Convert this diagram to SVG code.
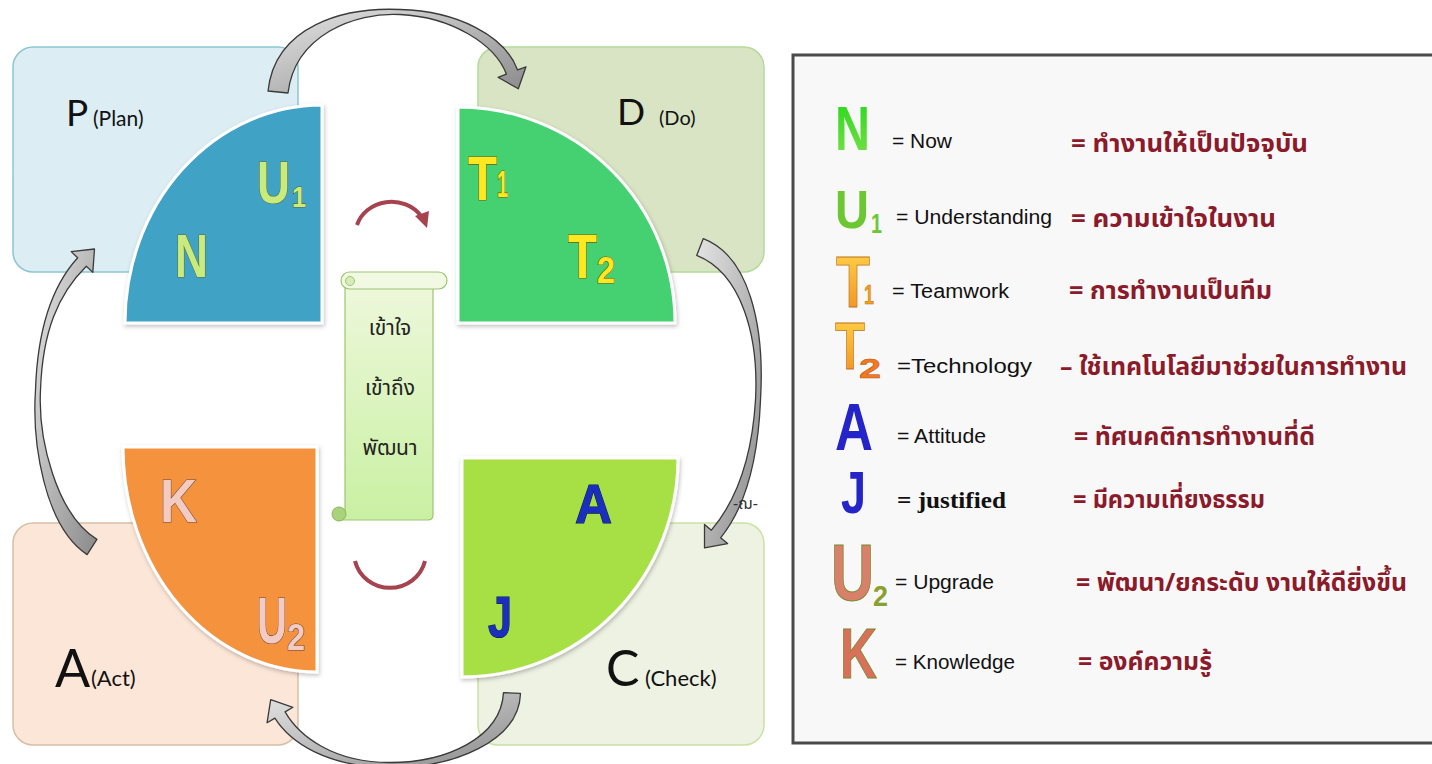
<svg xmlns="http://www.w3.org/2000/svg" width="1432" height="764" viewBox="0 0 1432 764">
<defs>
<linearGradient id="gArrow" x1="0" y1="0" x2="1" y2="1">
<stop offset="0" stop-color="#e4e4e4"/><stop offset="1" stop-color="#8a8a8a"/>
</linearGradient>
<linearGradient id="gScroll" x1="0" y1="0" x2="0" y2="1">
<stop offset="0" stop-color="#eef8dc"/><stop offset="1" stop-color="#c9f0a2"/>
</linearGradient>
<linearGradient id="gT" x1="0" y1="0" x2="0" y2="1">
<stop offset="0" stop-color="#ffd84a"/><stop offset="1" stop-color="#f08a20"/>
</linearGradient>
<linearGradient id="gN" x1="0" y1="0" x2="0" y2="1">
<stop offset="0" stop-color="#22d81a"/><stop offset="1" stop-color="#7ee04a"/>
</linearGradient>
<filter id="sh" x="-10%" y="-10%" width="120%" height="120%">
<feDropShadow dx="1" dy="2" stdDeviation="2" flood-color="#000" flood-opacity="0.25"/>
</filter>
</defs>
<style>
.box{stroke-width:1.5}
.quad{stroke:#ffffff;stroke-width:3;filter:url(#sh)}
.lbl{font-family:Lato,"Open Sans",sans-serif;fill:#111}
.ql{font-family:"Liberation Sans",Arial,sans-serif;font-weight:bold;stroke-width:1.2;paint-order:stroke}
.en{font-family:"Liberation Sans",Arial,sans-serif;font-size:20px;fill:#111}
.th{font-family:"Noto Sans Thai","Noto Sans Thai Looped","Loma","Garuda","Tlwg Typo","Liberation Sans",sans-serif;font-size:25px;font-weight:bold;fill:#8b1a2a}
.big{font-family:"Liberation Sans",Arial,sans-serif;font-weight:bold}
.arw{fill:url(#gArrow);stroke:#3a3a3a;stroke-width:1.3;stroke-linejoin:round}
.red-o{fill:none;stroke:#ffffff;stroke-width:8;stroke-linecap:round}
.red{fill:none;stroke:#a5434f;stroke-width:4}
.scr{font-family:"Noto Sans Thai","Loma","Garuda","Liberation Sans",sans-serif;font-size:21px;fill:#222;text-anchor:middle}
</style>

<g id="box-P"><rect class="box" x="13" y="47" width="285" height="225" rx="20" fill="#dcedf3" stroke="#8cc6d2"/>
<text class="lbl" x="66" y="126" font-size="37">P</text><text class="lbl" x="93" y="126" font-size="21">(Plan)</text></g>
<g id="box-D"><rect class="box" x="478" y="47" width="286" height="225" rx="20" fill="#d9e4c4" stroke="#b3da98"/>
<text class="lbl" x="617" y="125" font-size="37">D</text><text class="lbl" x="659" y="125" font-size="20">(Do)</text></g>
<g id="box-A"><rect class="box" x="13" y="523" width="285" height="222" rx="20" fill="#fce6d8" stroke="#d8bfa6"/>
<text class="lbl" x="55" y="687" font-size="52">A</text><text class="lbl" x="91" y="686" font-size="22">(Act)</text></g>
<g id="box-C"><rect class="box" x="478" y="523" width="286" height="222" rx="20" fill="#eef2e3" stroke="#c8e2a4"/>
<text class="lbl" x="606" y="686" font-size="50">C</text><text class="lbl" x="645" y="686" font-size="22">(Check)</text></g>

<g id="quad-NU">
<path class="quad" d="M322 323 L125 323 A197 218 0 0 1 322 105 Z" fill="#3fa3c6"/>
<text class="ql" x="257" y="203" font-size="60" textLength="33" lengthAdjust="spacingAndGlyphs" fill="#c9ea7c" stroke="#5c6b2a">U</text>
<text class="ql" x="292" y="207" font-size="30" textLength="14" lengthAdjust="spacingAndGlyphs" fill="#c9ea7c" stroke="#5c6b2a">1</text>
<text class="ql" x="175" y="277" font-size="61" textLength="33" lengthAdjust="spacingAndGlyphs" fill="#c9ea7c" stroke="#5c6b2a">N</text>
</g>
<g id="quad-T">
<path class="quad" d="M458 323 L458 107 A217 216 0 0 1 675 323 Z" fill="#45d172"/>
<text class="ql" x="468" y="200" font-size="63" textLength="29" lengthAdjust="spacingAndGlyphs" fill="#ffe820" stroke="#7a5a00">T</text>
<text class="ql" x="497" y="197" font-size="37" textLength="11" lengthAdjust="spacingAndGlyphs" fill="#ffe820" stroke="#7a5a00">1</text>
<text class="ql" x="568" y="278" font-size="63" textLength="29" lengthAdjust="spacingAndGlyphs" fill="#ffe820" stroke="#7a5a00">T</text>
<text class="ql" x="597" y="283" font-size="36" textLength="18" lengthAdjust="spacingAndGlyphs" fill="#ffe820" stroke="#7a5a00">2</text>
</g>
<g id="quad-KU">
<path class="quad" d="M317 447 L123 447 A194 225 0 0 0 317 672 Z" fill="#f5923e"/>
<text class="ql" x="160" y="522" font-size="61" textLength="37" lengthAdjust="spacingAndGlyphs" fill="#f4cbc2" stroke="#6a4a3a">K</text>
<text class="ql" x="257" y="643" font-size="64" textLength="30" lengthAdjust="spacingAndGlyphs" fill="#f4cbc2" stroke="#6a4a3a">U</text>
<text class="ql" x="287" y="650" font-size="37" textLength="18" lengthAdjust="spacingAndGlyphs" fill="#f4cbc2" stroke="#6a4a3a">2</text>
</g>
<g id="quad-AJ">
<path class="quad" d="M462 458 L678 458 A216 219 0 0 1 462 677 Z" fill="#a6e045"/>
<text class="ql" x="575" y="523" font-size="56" textLength="37" lengthAdjust="spacingAndGlyphs" fill="#1a2fc0" stroke="#0a1450">A</text>
<text class="ql" x="488" y="637" font-size="58" textLength="24" lengthAdjust="spacingAndGlyphs" fill="#1a2fc0" stroke="#0a1450">J</text>
</g>

<g id="scroll">
<path d="M345 282 L433 282 L433 515 Q433 520 428 520 L338 520 L345 512 Z" fill="url(#gScroll)" stroke="#9fc472" stroke-width="1.2"/>
<rect x="341" y="272" width="106" height="17" rx="8.5" fill="#f1f9e2" stroke="#9fc472" stroke-width="1.2"/>
<circle cx="350" cy="281" r="4.5" fill="#d7ecb7" stroke="#9fc472" stroke-width="1"/>
<circle cx="339" cy="514" r="7" fill="#a9d27a" stroke="#8cb660" stroke-width="1"/>
<text class="scr" x="390" y="335">เข้าใจ</text>
<text class="scr" x="390" y="395">เข้าถึง</text>
<text class="scr" x="390" y="455">พัฒนา</text>
</g>

<g id="connectors">
<path class="arw" d="M268 91 C275 25 345 7 400 9.5 C458 11 505 36 517.6 69.9 L526 66.8 L518.3 88.8 L498 77.3 L506.4 74.1 C495 44 452 17 400 14.5 C355 12 295 35 288 93 Z"/>
<path class="arw" d="M703.3 238.6 C749 256 765 325 760.5 400 C758 462 744 509 720.6 537.8 L727.6 543.6 L704.5 547.9 L704.5 524.4 L711.4 530.2 C736 501 752 458 755.5 400 C759 335 741 273 696.7 255.4 Z"/>
<path class="arw" d="M520.5 693.4 C519 742 452 768 390 767.5 C326 767 290 742 274.9 718.1 L267.1 722.7 L270.7 699.6 L292.9 707.3 L285.1 711.9 C299 736 333 762.5 390 762.5 C446 762.5 501 738 503.5 692.6 Z"/>
<path class="arw" d="M87.1 554.6 C44 526 32 442 35.5 390 C37.5 328 52 286 77.7 257.8 L71.2 251.6 L94.5 249 L92.8 272.4 L86.3 266.2 C58 294 42.5 332 40.5 390 C38 438 56 514 96.9 539.4 Z"/>
<path class="red-o" d="M357 225 A36 33 0 0 1 424 222"/>
<path class="red-o" d="M355 561 A36 35 0 0 0 425 561"/>
<path class="red" d="M357 225 A36 33 0 0 1 421 216"/>
<polygon points="415,216 429,211 427,228" fill="#a5434f"/>
<path class="red" d="M355 561 A36 35 0 0 0 425 561"/>
</g>
<text x="733" y="509" font-family="'Noto Sans Thai','Liberation Sans',sans-serif" font-size="16" fill="#333">-ฌ-</text>

<g id="legend">
<rect x="793" y="55" width="660" height="688" fill="#f8f8f8" stroke="#4a4a4a" stroke-width="3"/>
<g id="row-N">
<text class="big" x="835" y="150" font-size="63" textLength="35" lengthAdjust="spacingAndGlyphs" fill="url(#gN)">N</text>
<text class="en" x="892" y="148" textLength="60" lengthAdjust="spacingAndGlyphs">= Now</text>
<text class="th" x="1071" y="152" textLength="237" lengthAdjust="spacingAndGlyphs">= ทำงานให้เป็นปัจจุบัน</text>
</g>
<g id="row-U1">
<text class="big" x="835" y="228" font-size="53" textLength="34" lengthAdjust="spacingAndGlyphs" fill="#6cc832">U</text>
<text class="big" x="871" y="233" font-size="27" textLength="11" lengthAdjust="spacingAndGlyphs" fill="#6cc832">1</text>
<text class="en" x="896" y="224" textLength="156" lengthAdjust="spacingAndGlyphs">= Understanding</text>
<text class="th" x="1071" y="227" textLength="205" lengthAdjust="spacingAndGlyphs">= ความเข้าใจในงาน</text>
</g>
<g id="row-T1">
<text class="big" x="836" y="307" font-size="72" textLength="34" lengthAdjust="spacingAndGlyphs" fill="url(#gT)" stroke="#c07020" stroke-width="0.8">T</text>
<text class="big" x="864" y="304" font-size="27" textLength="10" lengthAdjust="spacingAndGlyphs" fill="#f0a020" stroke="#c07020" stroke-width="0.5">1</text>
<text class="en" x="892" y="298" textLength="117" lengthAdjust="spacingAndGlyphs">= Teamwork</text>
<text class="th" x="1069" y="299" textLength="203" lengthAdjust="spacingAndGlyphs">= การทำงานเป็นทีม</text>
</g>
<g id="row-T2">
<text class="big" x="835" y="369" font-size="66" textLength="30" lengthAdjust="spacingAndGlyphs" fill="url(#gT)" stroke="#c07020" stroke-width="0.8">T</text>
<text class="big" x="859" y="378" font-size="28" textLength="22" lengthAdjust="spacingAndGlyphs" fill="#f07a20" stroke="#c05010" stroke-width="0.5">2</text>
<text class="en" x="897" y="373" textLength="135" lengthAdjust="spacingAndGlyphs">=Technology</text>
<text class="th" x="1060" y="375" textLength="347" lengthAdjust="spacingAndGlyphs">– ใช้เทคโนโลยีมาช่วยในการทำงาน</text>
</g>
<g id="row-A">
<text class="big" x="835" y="450" font-size="67" textLength="38" lengthAdjust="spacingAndGlyphs" fill="#2424c8">A</text>
<text class="en" x="897" y="443" textLength="89" lengthAdjust="spacingAndGlyphs">= Attitude</text>
<text class="th" x="1074" y="445" textLength="241" lengthAdjust="spacingAndGlyphs">= ทัศนคติการทำงานที่ดี</text>
</g>
<g id="row-J">
<text class="big" x="841" y="513" font-size="60" textLength="25" lengthAdjust="spacingAndGlyphs" fill="#2424c8">J</text>
<text x="897" y="508" font-family="'Liberation Serif','Times New Roman',serif" font-size="24" font-weight="bold" fill="#111" textLength="109" lengthAdjust="spacingAndGlyphs">= justified</text>
<text class="th" x="1073" y="508" textLength="192" lengthAdjust="spacingAndGlyphs">= มีความเที่ยงธรรม</text>
</g>
<g id="row-U2">
<text class="big" x="831" y="600" font-size="80" textLength="43" lengthAdjust="spacingAndGlyphs" fill="#d8806a" stroke="#7a8a30" stroke-width="1">U</text>
<text class="big" x="873" y="606" font-size="30" textLength="15" lengthAdjust="spacingAndGlyphs" fill="#8aa030">2</text>
<text class="en" x="895" y="589" textLength="99" lengthAdjust="spacingAndGlyphs">= Upgrade</text>
<text class="th" x="1076" y="591" textLength="331" lengthAdjust="spacingAndGlyphs">= พัฒนา/ยกระดับ งานให้ดียิ่งขึ้น</text>
</g>
<g id="row-K">
<text class="big" x="840" y="678" font-size="71" textLength="37" lengthAdjust="spacingAndGlyphs" fill="#d9705a" stroke="#7a8a30" stroke-width="1">K</text>
<text class="en" x="895" y="669" textLength="120" lengthAdjust="spacingAndGlyphs">= Knowledge</text>
<text class="th" x="1078" y="670" textLength="134" lengthAdjust="spacingAndGlyphs">= องค์ความรู้</text>
</g>
</g>
</svg>
